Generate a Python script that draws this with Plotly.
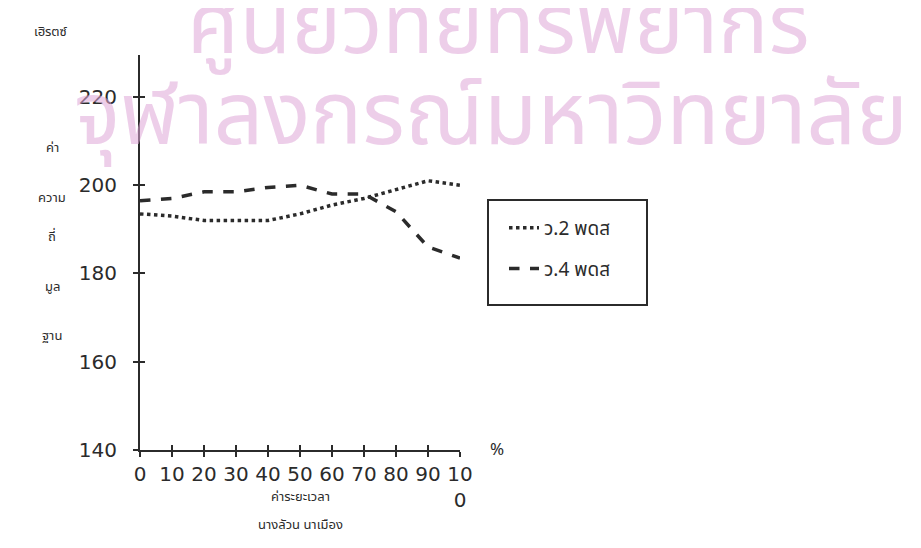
import plotly.graph_objects as go

# Data
x_pct = [0, 10, 20, 30, 40, 50, 60, 70, 80, 90, 100]
w2_pds = [193.5, 193.0, 192.0, 192.0, 192.0, 193.5, 195.5, 197.0, 199.0, 201.0, 200.0]
w4_pds = [196.5, 197.0, 198.5, 198.5, 199.5, 200.0, 198.0, 198.0, 194.0, 186.0, 183.5]
series_names = ["ว.2 พดส", "ว.4 พดส"]
x_tickvals = [0, 10, 20, 30, 40, 50, 60, 70, 80, 90, 100]
x_ticktext = ["0", "10", "20", "30", "40", "50", "60", "70", "80", "90", "10<br>0"]
y_tickvals = [140, 160, 180, 200, 220]

INK = "#2b2b2b"
FONT = "DejaVu Sans, sans-serif"
THAI = "Noto Sans Thai, Noto Sans, sans-serif"

# page pixel -> paper coordinate helpers (plot area: x 140..460, y 450..55)
def px(xp):
    return (xp - 140) / 320

def py(yp):
    return (450 - yp) / 395

fig = go.Figure()
fig.add_trace(go.Scatter(x=x_pct, y=w2_pds, mode="lines", name=series_names[0],
                         line=dict(color=INK, width=3.5, dash="dot"), legendgroup="a"))
fig.add_trace(go.Scatter(x=x_pct, y=w4_pds, mode="lines", name=series_names[1],
                         line=dict(color=INK, width=3.5, dash="dash"), legendgroup="b"))
# empty trace to activate overlay axes (for crossing tick marks)
fig.add_trace(go.Scatter(x=[None], y=[None], xaxis="x2", yaxis="y2", showlegend=False, hoverinfo="skip"))

tick_common = dict(showgrid=False, zeroline=False, tickcolor=INK, tickwidth=1.5)
fig.update_layout(
    width=913, height=540,
    margin=dict(l=132, r=461, t=47, b=98),
    paper_bgcolor="white", plot_bgcolor="white",
    xaxis=dict(range=[0, 100], tickvals=x_tickvals, ticktext=x_ticktext, ticks="outside", ticklen=5,
               showline=True, linecolor=INK, linewidth=2,
               tickfont=dict(family=FONT, size=20, color=INK), **tick_common),
    yaxis=dict(range=[140, 229.5], tickvals=y_tickvals, ticks="outside", ticklen=5,
               showline=True, linecolor=INK, linewidth=2, ticklabelstandoff=12,
               tickfont=dict(family=FONT, size=20, color=INK), **tick_common),
    xaxis2=dict(overlaying="x", range=[0, 100], tickvals=x_tickvals, ticks="inside", ticklen=5,
                showticklabels=False, showline=False, anchor="y", **tick_common),
    yaxis2=dict(overlaying="y", range=[140, 229.5], tickvals=y_tickvals, ticks="inside", ticklen=5,
                showticklabels=False, showline=False, anchor="x", **tick_common),
    legend=dict(x=px(504), y=py(209), xanchor="left", yanchor="top",
                borderwidth=0, bgcolor="rgba(255,255,255,0)",
                font=dict(family=THAI, size=19, color=INK), tracegroupgap=13,
                itemwidth=30),
    showlegend=True,
)

# legend frame
fig.add_shape(type="rect", xref="paper", yref="paper", x0=px(488), x1=px(647), y0=py(305), y1=py(200),
              line=dict(color=INK, width=2), fillcolor="rgba(0,0,0,0)")

# Watermark text
wm_color = "rgba(222,165,215,0.55)"
fig.add_annotation(xref="paper", yref="paper", x=px(185), y=py(27),
                   xanchor="left", yanchor="middle", text="ศูนย์วิทยทรัพยากร", showarrow=False,
                   font=dict(family=THAI, size=84, color=wm_color))
fig.add_annotation(xref="paper", yref="paper", x=px(72), y=py(118),
                   xanchor="left", yanchor="middle", text="จุฬาลงกรณ์มหาวิทยาลัย", showarrow=False,
                   font=dict(family=THAI, size=87, color=wm_color))

def px_ann(text, xp, yp, size=13, xanchor="center"):
    fig.add_annotation(xref="paper", yref="paper", x=px(xp), y=py(yp),
                       xanchor=xanchor, yanchor="middle", text=text, showarrow=False,
                       font=dict(family=THAI, size=size, color=INK))

px_ann("เฮิรตซ์", 50, 32)
for t, yp in [("ค่า", 148), ("ความ", 198), ("ถี่", 237), ("มูล", 287), ("ฐาน", 336)]:
    px_ann(t, 52, yp)
px_ann("%", 497, 450, size=17)
px_ann("ค่าระยะเวลา", 300, 497)
px_ann("นางลัวน นาเมือง", 300, 525)

fig.write_html("out.html")
